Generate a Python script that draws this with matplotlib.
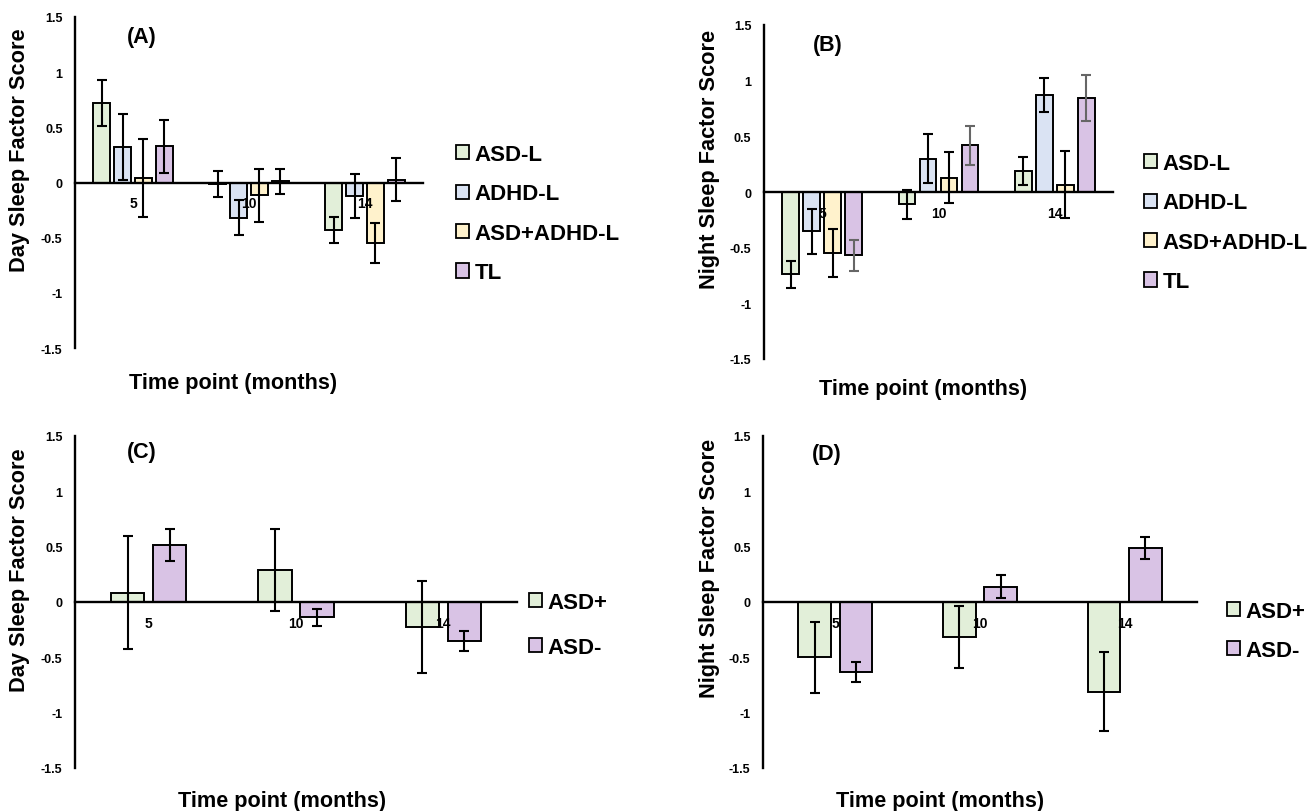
"""
Day / night sleep factor scores by time point, four panels (A-D).
"""

import matplotlib
matplotlib.use("Agg")
import matplotlib.pyplot as plt
from matplotlib.patches import Patch
import numpy as np

plt.rcParams["font.family"] = ["Liberation Sans", "DejaVu Sans"]
plt.rcParams["font.weight"] = "bold"

# ---- data ----
time_points = ["5", "10", "14"]

groups_top = ["ASD-L", "ADHD-L", "ASD+ADHD-L", "TL"]
groups_bottom = ["ASD+", "ASD-"]

# (A) day sleep, by language group
day_asd_l = [0.72, -0.015, -0.43]
day_asd_l_err = [0.21, 0.12, 0.12]
day_adhd_l = [0.32, -0.32, -0.125]
day_adhd_l_err = [0.30, 0.16, 0.20]
day_both_l = [0.04, -0.115, -0.55]
day_both_l_err = [0.35, 0.24, 0.18]
day_tl = [0.33, 0.01, 0.025]
day_tl_err = [0.24, 0.115, 0.195]

# (B) night sleep, by language group
night_asd_l = [-0.74, -0.11, 0.19]
night_asd_l_err = [0.12, 0.13, 0.127]
night_adhd_l = [-0.354, 0.30, 0.868]
night_adhd_l_err = [0.20, 0.22, 0.153]
night_both_l = [-0.55, 0.13, 0.066]
night_both_l_err = [0.215, 0.226, 0.30]
night_tl = [-0.57, 0.42, 0.844]
night_tl_err = [0.14, 0.175, 0.21]

# (C) day sleep, ASD outcome
day_asd_pos = [0.085, 0.29, -0.225]
day_asd_pos_err = [0.51, 0.37, 0.415]
day_asd_neg = [0.514, -0.14, -0.35]
day_asd_neg_err = [0.145, 0.08, 0.09]

# (D) night sleep, ASD outcome
night_asd_pos = [-0.50, -0.32, -0.81]
night_asd_pos_err = [0.32, 0.28, 0.36]
night_asd_neg = [-0.63, 0.14, 0.49]
night_asd_neg_err = [0.09, 0.105, 0.10]

COLORS_TOP = ["#E2EFD9", "#DAE3F3", "#FFF2CC", "#D9C3E5"]
COLORS_BOTTOM = ["#E2EFD9", "#D9C3E5"]

W, H = 1315, 812


def px_axes(fig, left, right, top, bottom):
    """像素坐标 -> figure 坐标"""
    return fig.add_axes([left / W, 1 - bottom / H, (right - left) / W, (bottom - top) / H])


def draw_panel(ax, series, errs, colors, pitch, width, err_colors=None):
    x = np.arange(len(time_points))
    n = len(series)
    for i, (vals, e, c) in enumerate(zip(series, errs, colors)):
        off = (i - (n - 1) / 2) * pitch
        ec = "black" if err_colors is None else err_colors[i]
        ax.bar(x + off, vals, width=width, color=c, edgecolor="black",
               linewidth=1.4, zorder=1)
        ax.errorbar(x + off, vals, yerr=e, fmt="none", ecolor=ec,
                    elinewidth=1.5, capsize=3.5, capthick=1.5, zorder=3)

    ax.set_xlim(-0.5, len(time_points) - 0.5)
    ax.set_ylim(-1.5, 1.5)
    ax.set_yticks([-1.5, -1, -0.5, 0, 0.5, 1, 1.5])
    ax.set_yticklabels(["-1.5", "-1", "-0.5", "0", "0.5", "1", "1.5"],
                       fontsize=9, fontweight="bold")
    ax.set_xticks(x)
    ax.set_xticklabels(time_points, fontsize=10.5, fontweight="bold")
    ax.tick_params(axis="both", length=0)
    ax.tick_params(axis="y", pad=9)
    ax.tick_params(axis="x", pad=10)
    ax.spines["top"].set_visible(False)
    ax.spines["right"].set_visible(False)
    ax.spines["bottom"].set_position(("data", 0))
    ax.spines["left"].set_linewidth(1.7)
    ax.spines["bottom"].set_linewidth(1.7)
    ax.patch.set_alpha(0)


def px_text(fig, x, y, s, **kw):
    fig.text(x / W, 1 - y / H, s, fontweight="bold", **kw)


fig = plt.figure(figsize=(13.15, 8.12), dpi=100)

# (A)
axA = px_axes(fig, 75, 423, 18, 349)
draw_panel(axA, [day_asd_l, day_adhd_l, day_both_l, day_tl],
           [day_asd_l_err, day_adhd_l_err, day_both_l_err, day_tl_err],
           COLORS_TOP, pitch=0.181, width=0.147)

# (B)
axB = px_axes(fig, 764, 1113, 26, 360)
draw_panel(axB, [night_asd_l, night_adhd_l, night_both_l, night_tl],
           [night_asd_l_err, night_adhd_l_err, night_both_l_err, night_tl_err],
           COLORS_TOP, pitch=0.181, width=0.142,
           err_colors=["black", "black", "black", "#666666"])

# (C)
axC = px_axes(fig, 75, 517, 437, 769)
draw_panel(axC, [day_asd_pos, day_asd_neg], [day_asd_pos_err, day_asd_neg_err],
           COLORS_BOTTOM, pitch=0.286, width=0.225)

# (D)
axD = px_axes(fig, 763, 1197, 437, 769)
draw_panel(axD, [night_asd_pos, night_asd_neg], [night_asd_pos_err, night_asd_neg_err],
           COLORS_BOTTOM, pitch=0.286, width=0.225)

# 面板标签
for x, y, s in [(142, 37, "(A)"), (828, 45, "(B)"), (142, 453, "(C)"), (827, 455, "(D)")]:
    px_text(fig, x, y, s, fontsize=15.5, ha="center", va="center")

# 轴标题
for x, y, s in [(20, 150, "Day Sleep Factor Score"), (710, 159, "Night Sleep Factor Score"),
                (20, 570, "Day Sleep Factor Score"), (710, 568, "Night Sleep Factor Score")]:
    px_text(fig, x, y, s, fontsize=15.7, rotation=90, ha="center", va="center")

for x, y, s in [(233, 384, "Time point (months)"), (923, 390, "Time point (months)"),
                (282, 802, "Time point (months)"), (940, 802, "Time point (months)")]:
    px_text(fig, x, y, s, fontsize=15.6, ha="center", va="center")


# 图例
def add_legend(labels, colors, x, y, spacing):
    handles = [Patch(facecolor=c, edgecolor="black", linewidth=1.3) for c in colors]
    fig.legend(handles, labels, loc="upper left", bbox_to_anchor=(x / W, 1 - y / H),
               frameon=False, prop={"weight": "bold", "size": 16},
               handlelength=0.6, handleheight=0.6, handletextpad=0.25,
               labelspacing=spacing, borderpad=0, borderaxespad=0)


add_legend(groups_top, COLORS_TOP, 456, 145, 0.83)
add_legend(groups_top, COLORS_TOP, 1144, 154, 0.83)
add_legend(groups_bottom, COLORS_BOTTOM, 529, 593, 1.08)
add_legend(groups_bottom, COLORS_BOTTOM, 1227, 602, 0.81)

fig.savefig("out.png", dpi=100)
